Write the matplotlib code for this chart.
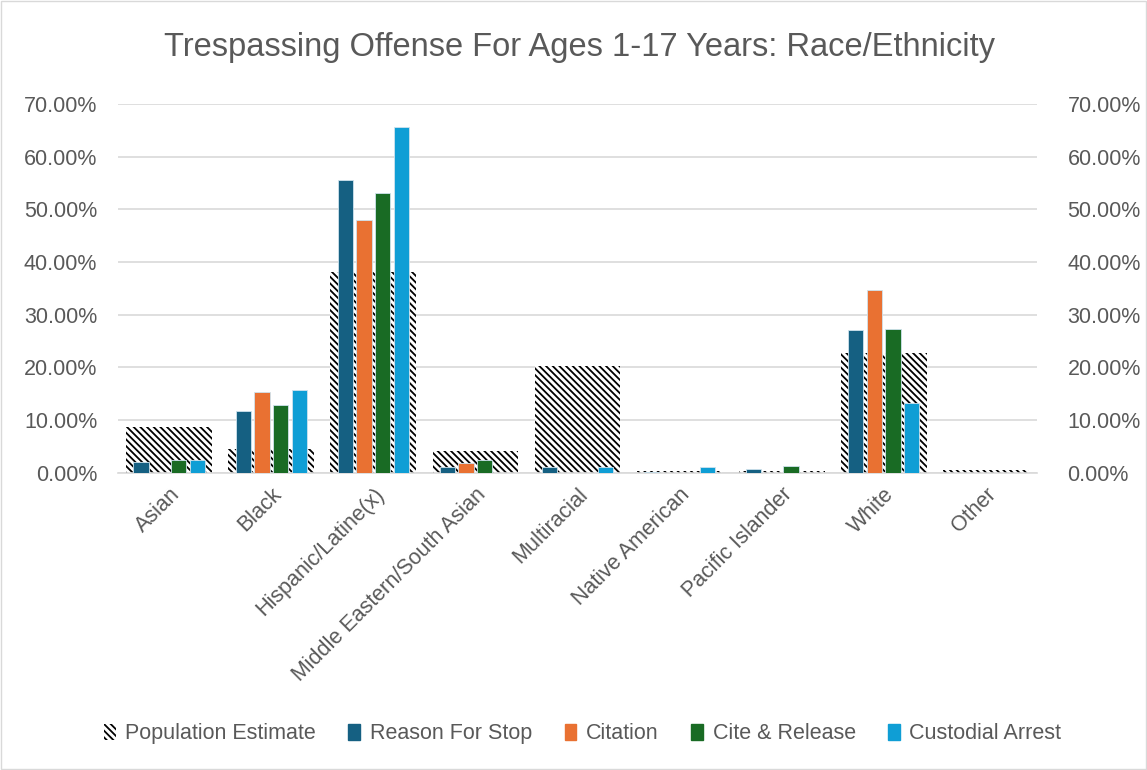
import matplotlib.pyplot as plt
import numpy as np
from matplotlib.patches import Patch, Rectangle
from matplotlib.ticker import PercentFormatter

categories = ["Asian", "Black", "Hispanic/Latine(x)", "Middle Eastern/South Asian",
              "Multiracial", "Native American", "Pacific Islander", "White", "Other"]
population = [8.7, 4.5, 38.1, 4.2, 20.3, 0.3, 0.3, 22.8, 0.6]
reason_for_stop = [2.1, 11.8, 55.6, 1.1, 1.1, 0.2, 0.7, 27.1, 0.0]
citation = [0.0, 15.4, 48.0, 1.9, 0.0, 0.0, 0.0, 34.6, 0.0]
cite_release = [2.5, 12.9, 53.1, 2.5, 0.0, 0.0, 1.3, 27.2, 0.0]
custodial = [2.4, 15.8, 65.7, 0.0, 1.1, 1.1, 0.0, 13.3, 0.0]

grey = "#595959"
fs = 15.5
plt.rcParams['font.family'] = ['Liberation Sans', 'DejaVu Sans']
plt.rcParams['hatch.linewidth'] = 1.3

fig = plt.figure(figsize=(11.47, 7.7), dpi=100)
ax = fig.add_axes([0.103, 0.386, 0.801, 0.479])
x = np.arange(len(categories))

ax.bar(x, population, width=0.84, color="white", edgecolor="black",
       hatch="\\\\\\\\\\", linewidth=0, zorder=2)
series = [(reason_for_stop, "#156082"), (citation, "#E97132"),
          (cite_release, "#196B24"), (custodial, "#0F9ED5")]
offsets = [-0.275, -0.092, 0.092, 0.275]
for (vals, col), off in zip(series, offsets):
    ax.bar(x + off, vals, width=0.15, color=col, edgecolor="#cfe3ee",
           linewidth=0.6, zorder=3)

ax.set_xlim(-0.5, len(categories) - 0.5)
ax.set_ylim(0, 70)
ax.set_yticks(np.arange(0, 71, 10))
ax.yaxis.set_major_formatter(PercentFormatter(decimals=2))
ax.grid(axis="y", color="#d9d9d9", linewidth=1.2, zorder=0)
ax.set_axisbelow(True)
for s in ["top", "left", "right"]:
    ax.spines[s].set_visible(False)
ax.spines["bottom"].set_color("#d9d9d9")
ax.spines["bottom"].set_linewidth(1.2)
ax.tick_params(axis="y", length=0, labelsize=fs, labelcolor=grey, pad=15)
ax.tick_params(axis="x", length=0, labelsize=fs, labelcolor=grey, pad=8)
ax.set_xticks(x)
ax.set_xticklabels(categories, rotation=45, ha="right", rotation_mode="anchor")

ax2 = ax.twinx()
ax2.set_ylim(0, 70)
ax2.set_yticks(np.arange(0, 71, 10))
ax2.yaxis.set_major_formatter(PercentFormatter(decimals=2))
for s in ["top", "left", "right", "bottom"]:
    ax2.spines[s].set_visible(False)
ax2.tick_params(axis="y", length=0, labelsize=fs, labelcolor=grey, pad=22)

fig.suptitle("Trespassing Offense For Ages 1-17 Years: Race/Ethnicity",
             x=0.505, y=0.958, fontsize=23.5, color=grey)

handles = [Patch(facecolor="white", edgecolor="black", hatch="\\\\\\\\\\", linewidth=0),
           Patch(color="#156082"), Patch(color="#E97132"),
           Patch(color="#196B24"), Patch(color="#0F9ED5")]
labels = ["Population Estimate", "Reason For Stop", "Citation",
          "Cite & Release", "Custodial Arrest"]
fig.legend(handles, labels, loc="center", bbox_to_anchor=(0.508, 0.047), ncol=5,
           frameon=False, fontsize=fs, labelcolor=grey, handlelength=0.55,
           handleheight=0.75, handletextpad=0.45, columnspacing=1.5)

fig.add_artist(Rectangle((0.001, 0.001), 0.998, 0.998, transform=fig.transFigure,
                         fill=False, edgecolor="#d9d9d9", linewidth=1))

fig.savefig("out.png", dpi=100)
